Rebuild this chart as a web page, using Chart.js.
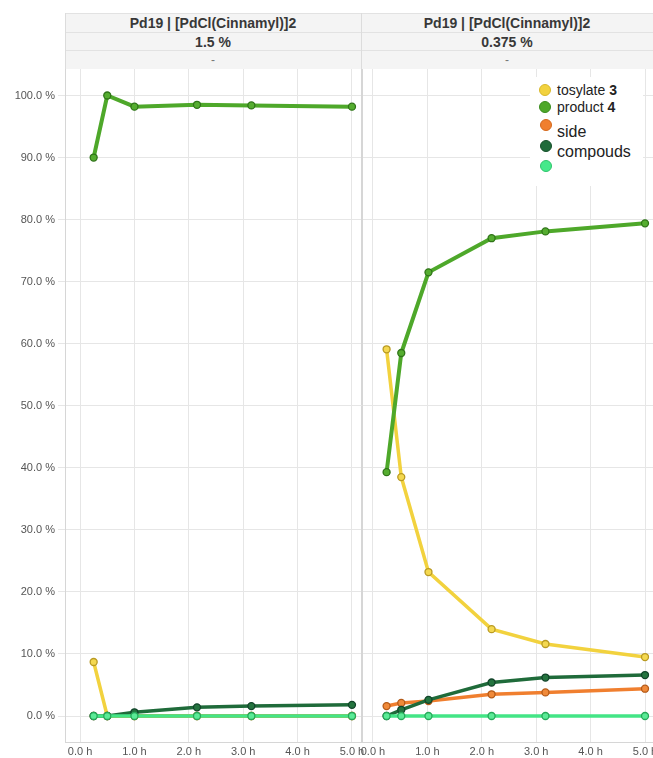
<!DOCTYPE html>
<html>
<head>
<meta charset="utf-8">
<script src="https://cdn.jsdelivr.net/npm/chart.js@4.4.1/dist/chart.umd.min.js"></script>
<style>
  html, body { margin: 0; padding: 0; background: #fff; width: 653px; height: 758px; overflow: hidden; }
  body { position: relative; font-family: "Liberation Sans", Arial, sans-serif; }
  .hdr { position: absolute; background: #f4f4f4; border-top: 1px solid #e2e2e2; box-sizing: border-box;
         text-align: center; font-weight: bold; font-size: 14px; color: #383838; }
  .vline { position: absolute; width: 1px; background: #dcdcdc; }
  canvas { position: absolute; }
  #legend { position: absolute; left: 530px; top: 77px; width: 113px; height: 109px; background: #fff;
            font-family: "Liberation Sans", Arial, sans-serif; color: #222; }
  .dot { position: absolute; width: 12px; height: 12px; border-radius: 50%; box-sizing: border-box; }
  .lt { position: absolute; white-space: nowrap; }
</style>
</head>
<body>
<div class="hdr" style="left:65px;top:13px;width:296px;height:19px;line-height:19px;">Pd19 | [PdCl(Cinnamyl)]2</div>
<div class="hdr" style="left:361px;top:13px;width:292px;height:19px;line-height:19px;">Pd19 | [PdCl(Cinnamyl)]2</div>
<div class="hdr" style="left:65px;top:32px;width:296px;height:18px;line-height:18px;">1.5 %</div>
<div class="hdr" style="left:361px;top:32px;width:292px;height:18px;line-height:18px;">0.375 %</div>
<div class="hdr" style="left:65px;top:50px;width:296px;height:19px;line-height:18px;font-weight:normal;font-size:12px;color:#777;">-</div>
<div class="hdr" style="left:361px;top:50px;width:292px;height:19px;line-height:18px;font-weight:normal;font-size:12px;color:#777;">-</div>
<div class="vline" style="left:65px;top:13px;height:56px;"></div>
<div class="vline" style="left:361px;top:13px;height:56px;"></div>

<canvas id="c1" width="376" height="689" style="left:0px;top:69px;width:376px;height:689px;"></canvas>
<canvas id="c2" width="307" height="689" style="left:346px;top:69px;width:307px;height:689px;"></canvas>

<div id="legend">
  <div class="dot" style="left:9px;top:7px;background:#f2d23e;border:1px solid #d9b82a;"></div>
  <div class="lt" style="left:27px;top:5px;font-size:14px;line-height:16px;">tosylate <b>3</b></div>
  <div class="dot" style="left:9px;top:24px;background:#4ea82a;border:1px solid #3a8c1e;"></div>
  <div class="lt" style="left:27px;top:22px;font-size:14px;line-height:16px;">product <b>4</b></div>
  <div class="dot" style="left:10px;top:42px;background:#f07f2f;border:1px solid #d4681c;"></div>
  <div class="lt" style="left:27px;top:46px;font-size:16px;line-height:18px;">side</div>
  <div class="dot" style="left:10px;top:63px;background:#1f6b3a;border:1px solid #15502a;"></div>
  <div class="lt" style="left:27px;top:66px;font-size:16px;line-height:18px;">compouds</div>
  <div class="dot" style="left:10px;top:83px;background:#46e98a;border:1px solid #2fc56c;"></div>
</div>

<script>
// ---- data ----
const seriesNames = ['tosylate 3', 'product 4', 'side compounds', 'compouds', 'other'];
const timesLeft  = [0.25, 0.5, 1, 2.15, 3.15, 5];
const timesRight = [0.25, 0.52, 1.02, 2.18, 3.17, 5];

const tosylateLeft  = [8.7, 0, 0, 0, 0, 0];
const productLeft   = [90, 100, 98.2, 98.5, 98.4, 98.2];
const sideLeft      = [0, 0, 0, 0, 0, 0];
const compoundsLeft = [0, 0, 0.6, 1.4, 1.6, 1.8];
const otherLeft     = [0, 0, 0, 0, 0, 0];

const tosylateRight  = [59.1, 38.5, 23.2, 14.0, 11.6, 9.5];
const productRight   = [39.3, 58.5, 71.5, 77.0, 78.1, 79.4];
const sideRight      = [1.6, 2.1, 2.4, 3.5, 3.8, 4.4];
const compoundsRight = [0, 1.0, 2.6, 5.4, 6.2, 6.6];
const otherRight     = [0, 0, 0, 0, 0, 0];

const yTicks = [0, 10, 20, 30, 40, 50, 60, 70, 80, 90, 100];
const xTicks = [0, 1, 2, 3, 4, 5];

// ---- styles ----
const styles = [
  { line: '#f2d23e', fill: '#f4d850', edge: '#b99a22', width: 3.5, order: 4 },
  { line: '#4ea82a', fill: '#55ad30', edge: '#2f7418', width: 4,   order: 3 },
  { line: '#f07f2f', fill: '#f08a3a', edge: '#b45a18', width: 3.5, order: 2 },
  { line: '#1f6b3a', fill: '#24743f', edge: '#12442a', width: 3.5, order: 1 },
  { line: '#43e586', fill: '#5aeb96', edge: '#27a85a', width: 3.5, order: 0 }
];

function mk(times, arrs) {
  return arrs.map((vals, i) => ({
    label: seriesNames[i],
    data: vals.map((v, j) => ({ x: times[j], y: v })),
    borderColor: styles[i].line,
    backgroundColor: styles[i].fill,
    pointBackgroundColor: styles[i].fill,
    pointBorderColor: styles[i].edge,
    pointBorderWidth: 1.3,
    pointRadius: 3.5,
    borderWidth: styles[i].width,
    tension: 0,
    order: styles[i].order
  }));
}

const gridColor = '#e6e6e6';
const tickFont = { family: '"Liberation Sans", Arial, sans-serif', size: 11 };
const tickColor = '#555';

const frame = {
  id: 'frame',
  afterDraw(chart, args, opts) {
    const { ctx, chartArea: a } = chart;
    ctx.save();
    ctx.strokeStyle = '#d6d6d6';
    ctx.lineWidth = 1;
    ctx.beginPath();
    if (opts.left) { ctx.moveTo(a.left + 0.5, a.top); ctx.lineTo(a.left + 0.5, a.bottom); }
    if (opts.right) { ctx.moveTo(a.right + 0.5, a.top); ctx.lineTo(a.right + 0.5, a.bottom); }
    ctx.stroke();
    ctx.restore();
  }
};

function xScale(min, max) {
  return {
    type: 'linear', min, max,
    afterBuildTicks: s => { s.ticks = xTicks.map(v => ({ value: v })); },
    afterFit: s => { s.height = 16; s.paddingLeft = 0; s.paddingRight = 0; },
    grid: { color: gridColor, drawTicks: false },
    border: { color: '#d6d6d6' },
    ticks: { font: tickFont, color: tickColor, padding: 3, maxRotation: 0, autoSkip: false,
             callback: v => v.toFixed(1) + ' h' }
  };
}

const Y_MIN = -4.19, Y_MAX = 104.27;

new Chart(document.getElementById('c1'), {
  type: 'line',
  data: { datasets: mk(timesLeft, [tosylateLeft, productLeft, sideLeft, compoundsLeft, otherLeft]) },
  plugins: [frame],
  options: {
    responsive: false, animation: false,
    layout: { autoPadding: false, padding: { left: 0, right: 15, top: 0, bottom: 0 } },
    plugins: { legend: { display: false }, tooltip: { enabled: false }, frame: { left: true, right: true } },
    scales: {
      x: xScale(-0.277, 5.166),
      y: {
        type: 'linear', min: Y_MIN, max: Y_MAX,
        afterBuildTicks: s => { s.ticks = yTicks.map(v => ({ value: v })); },
        afterFit: s => { s.width = 65; s.paddingTop = 0; s.paddingBottom = 0; },
        grid: { color: gridColor, tickLength: 7, tickColor: gridColor },
        border: { color: '#d6d6d6' },
        ticks: { font: tickFont, color: tickColor, padding: 3, callback: v => v.toFixed(1) + ' %' }
      }
    }
  }
});

new Chart(document.getElementById('c2'), {
  type: 'line',
  data: { datasets: mk(timesRight, [tosylateRight, productRight, sideRight, compoundsRight, otherRight]) },
  plugins: [frame],
  options: {
    responsive: false, animation: false,
    layout: { autoPadding: false, padding: { left: 16, right: 0, top: 0, bottom: 0 } },
    plugins: { legend: { display: false }, tooltip: { enabled: false }, frame: { left: true, right: false } },
    scales: {
      x: xScale(-0.202, 5.147),
      y: {
        type: 'linear', min: Y_MIN, max: Y_MAX, display: true,
        afterBuildTicks: s => { s.ticks = yTicks.map(v => ({ value: v })); },
        afterFit: s => { s.width = 0; s.paddingTop = 0; s.paddingBottom = 0; },
        grid: { color: gridColor, drawTicks: false },
        border: { display: false },
        ticks: { display: false }
      }
    }
  }
});
</script>
</body>
</html>
